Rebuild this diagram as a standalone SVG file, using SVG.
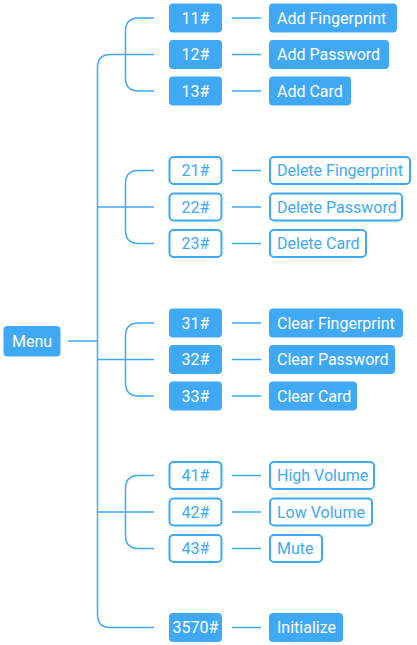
<svg xmlns="http://www.w3.org/2000/svg" width="417" height="645" viewBox="0 0 417 645">
<style>
.f{fill:#3FA9F5}
.o{fill:#FFFFFF;stroke:#3FA9F5;stroke-width:2}
.w{fill:#FFFFFF;font-family:Roboto,"Liberation Sans",sans-serif;font-size:16px}
.b{fill:#3FA9F5;font-family:Roboto,"Liberation Sans",sans-serif;font-size:16px}
.c{text-anchor:middle}
.ln{fill:none;stroke:#3FA9F5;stroke-width:1.5}
</style>
<rect width="417" height="645" fill="#FFFFFF"/>
<g id="connectors">
<path class="ln" d="M68 341H97.5"/>
<path class="ln" d="M154 54.5H110.5Q97.5 54.5 97.5 67.5V614.5Q97.5 627.5 110.5 627.5H154"/>
<path class="ln" d="M154 18H138.5Q125.5 18 125.5 31V78Q125.5 91 138.5 91H154"/>
<path class="ln" d="M154 170.5H138.5Q125.5 170.5 125.5 183.5V230.5Q125.5 243.5 138.5 243.5H154"/>
<path class="ln" d="M97.5 207H154"/>
<path class="ln" d="M154 323H138.5Q125.5 323 125.5 336V383Q125.5 396 138.5 396H154"/>
<path class="ln" d="M97.5 359.5H154"/>
<path class="ln" d="M154 475.5H138.5Q125.5 475.5 125.5 488.5V535.5Q125.5 548.5 138.5 548.5H154"/>
<path class="ln" d="M97.5 512H154"/>
<path class="ln" d="M232 18H261M232 54.5H261M232 91H261M232 170.5H261M232 207H261M232 243.5H261M232 323H261M232 359.5H261M232 396H261M232 475.5H261M232 512H261M232 548.5H261M232 627.5H261"/>
</g>
<g id="menu"><rect class="f" x="3.5" y="326" width="57" height="30.5" rx="4"/><text class="w c" x="32" y="346.5">Menu</text></g>
<g id="n11"><rect class="f" x="169" y="3.5" width="53" height="29" rx="4"/><text class="w c" x="195.5" y="23.5">11#</text></g>
<g id="l11"><rect class="f" x="269" y="3.5" width="128" height="29" rx="4"/><text class="w" x="277" y="23.5">Add Fingerprint</text></g>
<g id="n12"><rect class="f" x="169" y="40" width="53" height="29" rx="4"/><text class="w c" x="195.5" y="60">12#</text></g>
<g id="l12"><rect class="f" x="269" y="40" width="120" height="29" rx="4"/><text class="w" x="277" y="60">Add Password</text></g>
<g id="n13"><rect class="f" x="169" y="76.5" width="53" height="29" rx="4"/><text class="w c" x="195.5" y="96.5">13#</text></g>
<g id="l13"><rect class="f" x="269" y="76.5" width="82" height="29" rx="4"/><text class="w" x="277" y="96.5">Add Card</text></g>
<g id="n21"><rect class="o" x="169.5" y="157" width="52" height="27" rx="4"/><text class="b c" x="195.5" y="176">21#</text></g>
<g id="l21"><rect class="o" x="270" y="157" width="140" height="27" rx="4"/><text class="b" x="277" y="176">Delete Fingerprint</text></g>
<g id="n22"><rect class="o" x="169.5" y="193.5" width="52" height="27" rx="4"/><text class="b c" x="195.5" y="212.5">22#</text></g>
<g id="l22"><rect class="o" x="270" y="193.5" width="132" height="27" rx="4"/><text class="b" x="277" y="212.5">Delete Password</text></g>
<g id="n23"><rect class="o" x="169.5" y="230" width="52" height="27" rx="4"/><text class="b c" x="195.5" y="249">23#</text></g>
<g id="l23"><rect class="o" x="270" y="230" width="96" height="27" rx="4"/><text class="b" x="277" y="249">Delete Card</text></g>
<g id="n31"><rect class="f" x="169" y="308.5" width="53" height="29" rx="4"/><text class="w c" x="195.5" y="328.5">31#</text></g>
<g id="l31"><rect class="f" x="269" y="308.5" width="134" height="29" rx="4"/><text class="w" x="277" y="328.5">Clear Fingerprint</text></g>
<g id="n32"><rect class="f" x="169" y="345" width="53" height="29" rx="4"/><text class="w c" x="195.5" y="365">32#</text></g>
<g id="l32"><rect class="f" x="269" y="345" width="126" height="29" rx="4"/><text class="w" x="277" y="365">Clear Password</text></g>
<g id="n33"><rect class="f" x="169" y="381.5" width="53" height="29" rx="4"/><text class="w c" x="195.5" y="401.5">33#</text></g>
<g id="l33"><rect class="f" x="269" y="381.5" width="88" height="29" rx="4"/><text class="w" x="277" y="401.5">Clear Card</text></g>
<g id="n41"><rect class="o" x="169.5" y="462" width="52" height="27" rx="4"/><text class="b c" x="195.5" y="481">41#</text></g>
<g id="l41"><rect class="o" x="270" y="462" width="104" height="27" rx="4"/><text class="b" x="277" y="481">High Volume</text></g>
<g id="n42"><rect class="o" x="169.5" y="498.5" width="52" height="27" rx="4"/><text class="b c" x="195.5" y="517.5">42#</text></g>
<g id="l42"><rect class="o" x="270" y="498.5" width="102" height="27" rx="4"/><text class="b" x="277" y="517.5">Low Volume</text></g>
<g id="n43"><rect class="o" x="169.5" y="535" width="52" height="27" rx="4"/><text class="b c" x="195.5" y="554">43#</text></g>
<g id="l43"><rect class="o" x="270" y="535" width="52" height="27" rx="4"/><text class="b" x="277" y="554">Mute</text></g>
<g id="n3570"><rect class="f" x="169" y="613" width="53" height="29" rx="4"/><text class="w c" x="195.5" y="633">3570#</text></g>
<g id="l3570"><rect class="f" x="269" y="613" width="74" height="29" rx="4"/><text class="w" x="277" y="633">Initialize</text></g>
</svg>
